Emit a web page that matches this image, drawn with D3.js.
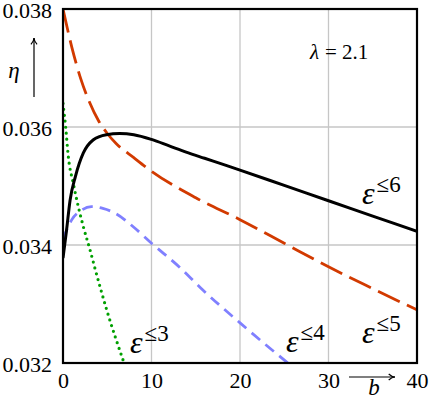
<!DOCTYPE html>
<html lang="en">
<head>
<meta charset="utf-8">
<title>eta vs b</title>
<script src="https://cdnjs.cloudflare.com/ajax/libs/d3/7.8.5/d3.min.js"></script>
<style>
  body { margin: 0; background: #fff; }
  .grid line { stroke: #c6c6c6; stroke-width: 1.3; }
</style>
</head>
<body>
<div id="chart"></div>
<script>
// data
var xTicks = [0, 10, 20, 30, 40];
var yTicks = [0.032, 0.034, 0.036, 0.038];

var bBlack = [0, 0.4, 0.8, 1.4, 2.3, 3.4, 4.9, 6.4, 8, 10, 12, 14, 16, 18, 20, 25, 30, 35, 40];
var etaBlack = [0.03378, 0.03425, 0.03476, 0.03516, 0.03556, 0.03578, 0.03587, 0.03589, 0.03587, 0.03579, 0.03568, 0.03557, 0.03547, 0.03537, 0.03527, 0.03501, 0.03475, 0.03449, 0.03423];

var bRed = [0, 1, 2, 3, 4, 5, 6, 8, 10, 15, 20, 25, 30, 35, 40];
var etaRed = [0.0380, 0.03735, 0.03682, 0.03642, 0.03611, 0.03589, 0.03572, 0.03548, 0.03525, 0.03480, 0.03443, 0.03403, 0.03363, 0.03326, 0.03290];

var bBlue = [0, 0.5, 1, 2, 3.2, 4.5, 6, 8, 10, 13.2, 15.5, 20, 25.4];
var etaBlue = [0.0341, 0.03428, 0.03443, 0.03458, 0.03465, 0.03462, 0.03453, 0.03430, 0.03403, 0.03362, 0.03328, 0.03268, 0.0320];

var bGreen = [0, 0.3, 0.6, 1.17, 1.73, 2.3, 3.05, 3.6, 4.94, 6.9];
var etaGreen = [0.0364, 0.0360, 0.0355, 0.03504, 0.03465, 0.03431, 0.03392, 0.03361, 0.0329, 0.0320];

var series = [
  {b: bGreen, eta: etaGreen, color: "#00a000", width: 3.2, dash: "0,6", cap: "round"},
  {b: bBlue, eta: etaBlue, color: "#8080ff", width: 2.8, dash: "11,7", cap: "butt"},
  {b: bRed, eta: etaRed, color: "#d23a00", width: 2.8, dash: "24,8", cap: "butt"},
  {b: bBlack, eta: etaBlack, color: "#000000", width: 3, dash: null, cap: "butt"}
];

var labels = [
  {sup: "6", x: 362, y: 204},
  {sup: "5", x: 362, y: 343},
  {sup: "4", x: 286, y: 352},
  {sup: "3", x: 130, y: 353}
];

var FONT = "Liberation Serif";

// plot box
var W = 430, H = 400;
var pl = 63, pr = 417, pt = 9, pb = 363;

var xScale = d3.scaleLinear().domain([0, 40]).range([pl, pr]);
var yScale = d3.scaleLinear().domain([0.032, 0.038]).range([pb, pt]);

var svg = d3.select("#chart").append("svg")
  .attr("width", W).attr("height", H)
  .attr("font-family", FONT);

svg.append("defs").append("clipPath").attr("id", "plotclip")
  .append("rect")
  .attr("x", pl).attr("y", pt)
  .attr("width", pr - pl).attr("height", pb - pt);

// grid
var grid = svg.append("g").attr("class", "grid");
grid.selectAll(".vx").data([10, 20, 30]).enter().append("line")
  .attr("x1", function(d) { return xScale(d); })
  .attr("x2", function(d) { return xScale(d); })
  .attr("y1", pt).attr("y2", pb);
grid.selectAll(".hy").data([0.034, 0.036]).enter().append("line")
  .attr("y1", function(d) { return yScale(d); })
  .attr("y2", function(d) { return yScale(d); })
  .attr("x1", pl).attr("x2", pr);

// curves
var line = d3.line()
  .x(function(d) { return xScale(d[0]); })
  .y(function(d) { return yScale(d[1]); })
  .curve(d3.curveMonotoneX);

var curves = svg.append("g").attr("clip-path", "url(#plotclip)");
series.forEach(function(s) {
  var pts = s.b.map(function(v, i) { return [v, s.eta[i]]; });
  curves.append("path")
    .datum(pts)
    .attr("d", line)
    .attr("fill", "none")
    .attr("stroke", s.color)
    .attr("stroke-width", s.width)
    .attr("stroke-linecap", s.cap)
    .attr("stroke-dasharray", s.dash);
});

// frame
svg.append("rect")
  .attr("x", pl).attr("y", pt)
  .attr("width", pr - pl).attr("height", pb - pt)
  .attr("fill", "none").attr("stroke", "#000").attr("stroke-width", 2.2);

// axes (labels only)
var xAxis = d3.axisBottom(xScale).tickValues(xTicks).tickSize(0);
var gx = svg.append("g").attr("transform", "translate(0," + pb + ")").call(xAxis);
gx.attr("font-family", FONT).attr("font-size", 22);
gx.select(".domain").remove();
gx.selectAll("text").attr("y", 25).attr("dy", 0).attr("fill", "#000");

var yAxis = d3.axisLeft(yScale).tickValues(yTicks).tickSize(0).tickPadding(11).tickFormat(d3.format(".3f"));
var gy = svg.append("g").attr("transform", "translate(" + pl + ",0)").call(yAxis);
gy.attr("font-family", FONT).attr("font-size", 22);
gy.select(".domain").remove();
gy.selectAll("text").attr("dy", 8).attr("fill", "#000");

// axis arrows
function arrow(x1, y1, x2, y2) {
  svg.append("line")
    .attr("x1", x1).attr("y1", y1).attr("x2", x2).attr("y2", y2)
    .attr("stroke", "#000").attr("stroke-width", 1.2);
  var a = Math.atan2(y2 - y1, x2 - x1), L = 7, s = 0.45;
  svg.append("path")
    .attr("d", "M" + (x2 - L * Math.cos(a - s)) + "," + (y2 - L * Math.sin(a - s)) +
      " Q" + (x2 - 3 * Math.cos(a)) + "," + (y2 - 3 * Math.sin(a)) + " " + x2 + "," + y2 +
      " Q" + (x2 - 3 * Math.cos(a)) + "," + (y2 - 3 * Math.sin(a)) + " " +
      (x2 - L * Math.cos(a + s)) + "," + (y2 - L * Math.sin(a + s)))
    .attr("fill", "none").attr("stroke", "#000").attr("stroke-width", 1.2);
}
arrow(34, 97, 34, 38);
arrow(349, 377, 395, 377);

svg.append("text").attr("x", 14).attr("y", 78)
  .attr("text-anchor", "middle").style("font-size", "23px").style("font-style", "italic")
  .text("η");
svg.append("text").attr("x", 374).attr("y", 395)
  .attr("text-anchor", "middle").style("font-size", "23px").style("font-style", "italic")
  .text("b");

// lambda
var lam = svg.append("text").attr("x", 310).attr("y", 59).style("font-size", "21px");
lam.append("tspan").style("font-style", "italic").text("λ");
lam.append("tspan").attr("dx", 6).text("=");
lam.append("tspan").attr("dx", 5).text("2.1");

// curve labels
labels.forEach(function(l) {
  var t = svg.append("text").attr("x", l.x).attr("y", l.y);
  t.append("tspan").style("font-size", "32px").style("font-style", "italic").text("ε");
  t.append("tspan").attr("dx", 2).attr("dy", -12).style("font-size", "23px").text("≤" + l.sup);
});
</script>
</body>
</html>
